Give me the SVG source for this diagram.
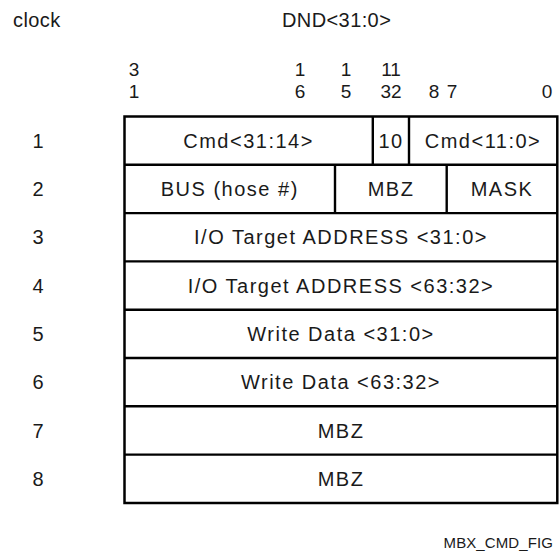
<svg xmlns="http://www.w3.org/2000/svg" width="559" height="554" viewBox="0 0 559 554">
  <style>
    text { font-family: "Liberation Sans", Arial, Helvetica, sans-serif; fill: #1a1a1a; }
    .hdr { font-size: 20px; letter-spacing: 0.4px; }
    .bit { font-size: 19px; text-anchor: middle; }
    .num { font-size: 20px; text-anchor: middle; }
    .cell { font-size: 20px; text-anchor: middle; letter-spacing: 1.5px; }
    .cap { font-size: 15px; text-anchor: end; letter-spacing: 0.1px; }
    .box { fill: #ffffff; stroke: #000000; stroke-width: 2.5; }
    .div { stroke: #000000; stroke-width: 2.4; fill: none; }
  </style>

  <!-- column headings -->
  <g id="headings">
    <text class="hdr" x="13" y="27">clock</text>
    <text class="hdr" x="282" y="27">DND&lt;31:0&gt;</text>
  </g>

  <!-- bit position scale (two-line digits) -->
  <g id="bit-scale">
    <text class="bit" x="134" y="76">3</text>
    <text class="bit" x="134" y="98">1</text>
    <text class="bit" x="300" y="76">1</text>
    <text class="bit" x="300" y="98">6</text>
    <text class="bit" x="346" y="76">1</text>
    <text class="bit" x="346" y="98">5</text>
    <text class="bit" x="391" y="76">11</text>
    <text class="bit" x="391" y="98">32</text>
    <text class="bit" x="434" y="98">8</text>
    <text class="bit" x="452" y="98">7</text>
    <text class="bit" x="547" y="98">0</text>
  </g>

  <!-- clock cycle numbers -->
  <g id="clock-numbers">
    <text class="num" x="38" y="148">1</text>
    <text class="num" x="38" y="196">2</text>
    <text class="num" x="38" y="244">3</text>
    <text class="num" x="38" y="293">4</text>
    <text class="num" x="38" y="341">5</text>
    <text class="num" x="38" y="389">6</text>
    <text class="num" x="38" y="438">7</text>
    <text class="num" x="38" y="486">8</text>
  </g>

  <!-- outer frame -->
  <rect class="box" x="124.5" y="116.5" width="432.8" height="386.5"/>

  <!-- row separators and field dividers -->
  <g id="connectors">
    <line class="div" x1="124.5" y1="164.8" x2="557.3" y2="164.8"/>
    <line class="div" x1="124.5" y1="213.1" x2="557.3" y2="213.1"/>
    <line class="div" x1="124.5" y1="261.4" x2="557.3" y2="261.4"/>
    <line class="div" x1="124.5" y1="309.7" x2="557.3" y2="309.7"/>
    <line class="div" x1="124.5" y1="358.0" x2="557.3" y2="358.0"/>
    <line class="div" x1="124.5" y1="406.3" x2="557.3" y2="406.3"/>
    <line class="div" x1="124.5" y1="454.6" x2="557.3" y2="454.6"/>
    <line class="div" x1="372.8" y1="116.5" x2="372.8" y2="164.8"/>
    <line class="div" x1="409" y1="116.5" x2="409" y2="164.8"/>
    <line class="div" x1="335" y1="164.8" x2="335" y2="213.1"/>
    <line class="div" x1="446.7" y1="164.8" x2="446.7" y2="213.1"/>
  </g>

  <!-- row 1 -->
  <g id="row1">
    <text class="cell" x="248.6" y="148">Cmd&lt;31:14&gt;</text>
    <text class="cell" x="391" y="148">10</text>
    <text class="cell" x="483" y="148">Cmd&lt;11:0&gt;</text>
  </g>
  <!-- row 2 -->
  <g id="row2">
    <text class="cell" x="229.8" y="196">BUS (hose #)</text>
    <text class="cell" x="391" y="196">MBZ</text>
    <text class="cell" x="502" y="196">MASK</text>
  </g>
  <g id="row3"><text class="cell" x="341" y="244">I/O Target ADDRESS &lt;31:0&gt;</text></g>
  <g id="row4"><text class="cell" x="341" y="293">I/O Target ADDRESS &lt;63:32&gt;</text></g>
  <g id="row5"><text class="cell" x="341" y="341">Write Data &lt;31:0&gt;</text></g>
  <g id="row6"><text class="cell" x="341" y="389">Write Data &lt;63:32&gt;</text></g>
  <g id="row7"><text class="cell" x="341" y="438">MBZ</text></g>
  <g id="row8"><text class="cell" x="341" y="486">MBZ</text></g>

  <!-- figure tag -->
  <g id="caption">
    <text class="cap" x="553" y="548">MBX_CMD_FIG</text>
  </g>
</svg>
